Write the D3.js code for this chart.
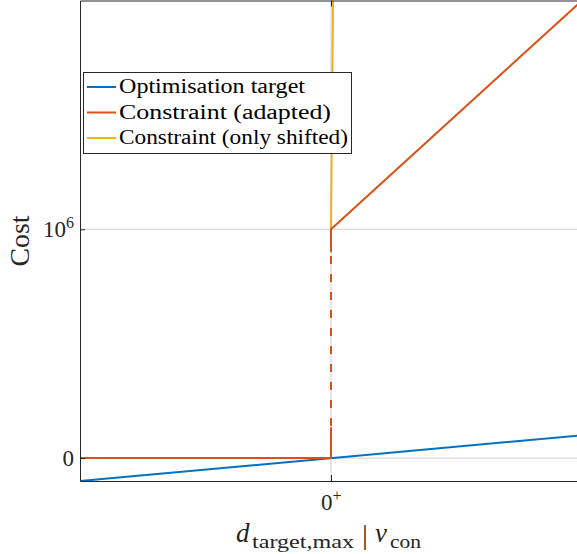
<!DOCTYPE html>
<html>
<head>
<meta charset="utf-8">
<script src="https://cdn.jsdelivr.net/npm/d3@7"></script>
<style>
  html, body { margin: 0; padding: 0; background: #fff; }
  svg { display: block; font-family: "Liberation Serif", "DejaVu Serif", serif; }
</style>
</head>
<body>
<svg id="chart" width="577" height="554"></svg>
<script>
// Cost values are in units of 10^6; x is the normalised distance / velocity axis.
const targetX = [-1, 1];
const targetY = [-0.1, 0.1];

// Adapted constraint: zero below 0+, jump to 10^6, then grows linearly.
const adaptedLowX = [-1, 0, 0];
const adaptedLowY = [0, 0, 0.135];
const adaptedHighX = [0, 0, 1];
const adaptedHighY = [0.9, 1, 2];
const jumpX = [0, 0];
const jumpY = [0, 1];

// Constraint that is only shifted: near-vertical rise from 10^6.
const shiftedX = [0, 0.008];
const shiftedY = [1, 2];

const xTickValues = [0];
const xTickLabels = ["0"];
const xTickSup = ["+"];
const yTickValues = [0, 1];
const yTickLabels = ["0", "10"];
const yTickSup = ["", "6"];

const seriesNames = ["Optimisation target", "Constraint (adapted)", "Constraint (only shifted)"];
const seriesColors = ["#0072BD", "#D95319", "#EDB120"];

const svg = d3.select("#chart");
const axisColor = "#262626";
const gridColor = "#d0d0d0";

const x = d3.scaleLinear().domain([-1, 1]).range([80, 582]);
const y = d3.scaleLinear().domain([-0.1, 2.0]).range([481, 0.5]);

const plot = svg.append("g");
svg.append("defs").append("clipPath").attr("id", "clip")
  .append("rect").attr("x", x(-1)).attr("y", y(2)).attr("width", x(1) - x(-1)).attr("height", y(-0.1) - y(2));

// grid
const grid = plot.append("g");
grid.selectAll("line.gx").data(xTickValues).join("line")
  .attr("x1", d => x(d)).attr("x2", d => x(d))
  .attr("y1", y(-0.1)).attr("y2", y(2))
  .attr("stroke", gridColor).attr("stroke-width", 1);
grid.selectAll("line.gy").data(yTickValues).join("line")
  .attr("x1", x(-1)).attr("x2", x(1))
  .attr("y1", d => y(d)).attr("y2", d => y(d))
  .attr("stroke", gridColor).attr("stroke-width", 1);

const line = d3.line().x(d => x(d[0])).y(d => y(d[1]));
const zip = (a, b) => a.map((v, i) => [v, b[i]]);

const lines = plot.append("g").attr("clip-path", "url(#clip)").attr("fill", "none")
  .attr("stroke-width", 2).attr("stroke-linejoin", "miter");

lines.append("path").attr("d", line(zip(targetX, targetY))).attr("stroke", seriesColors[0]);
lines.append("path").attr("d", line(zip(shiftedX, shiftedY))).attr("stroke", seriesColors[2]);
lines.append("path").attr("d", line(zip(jumpX, jumpY))).attr("stroke", seriesColors[1])
  .attr("stroke-dasharray", "8,10").attr("stroke-dashoffset", 4);
lines.append("path").attr("d", line(zip(adaptedLowX, adaptedLowY))).attr("stroke", seriesColors[1]);
lines.append("path").attr("d", line(zip(adaptedHighX, adaptedHighY))).attr("stroke", seriesColors[1]);

// axes (box with inward ticks)
const xAxis = d3.axisBottom(x).tickValues(xTickValues).tickSizeInner(-6).tickSizeOuter(0).tickFormat(() => "");
const xAxisTop = d3.axisTop(x).tickValues(xTickValues).tickSizeInner(-6).tickSizeOuter(0).tickFormat(() => "");
const yAxis = d3.axisLeft(y).tickValues(yTickValues).tickSizeInner(-5).tickSizeOuter(0).tickFormat(() => "");

function styleAxis(g) {
  g.select(".domain").attr("stroke", axisColor).attr("stroke-width", 1);
  g.selectAll(".tick line").attr("stroke", axisColor).attr("stroke-width", 1);
}
svg.append("g").attr("transform", `translate(0,${y(-0.1)})`).call(xAxis).call(styleAxis);
svg.append("g").attr("transform", `translate(0,${y(2)})`).call(xAxisTop).call(styleAxis);
svg.append("g").attr("transform", `translate(${x(-1)},0)`).call(yAxis).call(styleAxis);

// tick labels
const yLab = svg.append("g").attr("fill", axisColor).attr("font-size", 23).attr("text-anchor", "end");
yTickValues.forEach((v, i) => {
  const t = yLab.append("text").attr("x", 74).attr("y", y(v) + 8);
  t.append("tspan").text(yTickLabels[i]);
  if (yTickSup[i]) t.append("tspan").attr("font-size", 16).attr("dy", -9).text(yTickSup[i]);
});
const xLab = svg.append("g").attr("fill", axisColor).attr("font-size", 23);
xTickValues.forEach((v, i) => {
  const t = xLab.append("text").attr("x", x(v) - 10).attr("y", 510);
  t.append("tspan").text(xTickLabels[i]);
  t.append("tspan").attr("font-size", 16).attr("dy", -9).text(xTickSup[i]);
});

// axis titles
svg.append("text").attr("transform", "translate(29,241) rotate(-90)")
  .attr("text-anchor", "middle").attr("font-size", 27).attr("fill", axisColor)
  .attr("textLength", 51).attr("lengthAdjust", "spacingAndGlyphs").text("Cost");

const xt = svg.append("g").attr("fill", axisColor);
xt.append("text").attr("x", 236).attr("y", 542).attr("font-size", 27).attr("font-style", "italic").text("d");
xt.append("text").attr("x", 252).attr("y", 548).attr("font-size", 19)
  .attr("textLength", 102).attr("lengthAdjust", "spacingAndGlyphs").text("target,max");
xt.append("text").attr("x", 365).attr("y", 544).attr("font-size", 27).attr("text-anchor", "middle").text("|");
xt.append("text").attr("x", 375).attr("y", 542).attr("font-size", 27).attr("font-style", "italic").text("v");
xt.append("text").attr("x", 390).attr("y", 548).attr("font-size", 19)
  .attr("textLength", 31).attr("lengthAdjust", "spacingAndGlyphs").text("con");

// legend
const leg = svg.append("g");
leg.append("rect").attr("x", 83.5).attr("y", 72.5).attr("width", 268).attr("height", 81)
  .attr("fill", "#fff").attr("stroke", axisColor).attr("stroke-width", 1);
const rowY = [87, 112.5, 138];
const textW = [186, 212, 229];
seriesNames.forEach((name, i) => {
  leg.append("line").attr("x1", 87).attr("x2", 116).attr("y1", rowY[i]).attr("y2", rowY[i])
    .attr("stroke", seriesColors[i]).attr("stroke-width", 2);
  leg.append("text").attr("x", 119).attr("y", rowY[i] + 6).attr("font-size", 20)
    .attr("fill", "#000").attr("textLength", textW[i]).attr("lengthAdjust", "spacingAndGlyphs").text(name);
});
</script>
</body>
</html>
